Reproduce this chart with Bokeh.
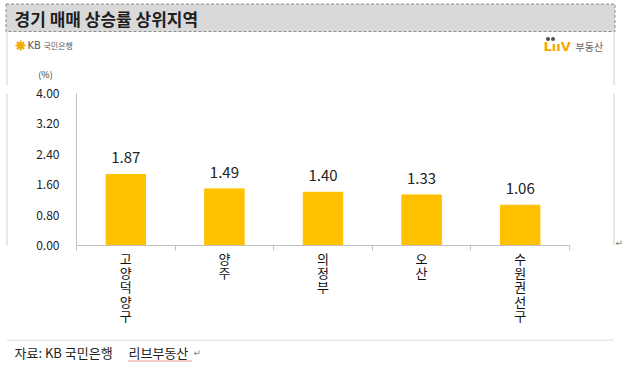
from bokeh.plotting import figure
from bokeh.models import FixedTicker, Range1d, NumeralTickFormatter
from bokeh.layouts import column, row
from bokeh.embed import file_html
from bokeh.resources import INLINE
from bokeh.core.properties import value

# ---- data ----
categories = ["고양덕양구", "양주", "의정부", "오산", "수원권선구"]
values = [1.87, 1.49, 1.40, 1.33, 1.06]
y_ticks = [0.0, 0.8, 1.6, 2.4, 3.2, 4.0]
title_text = "경기 매매 상승률 상위지역"
source_left = "자료: KB 국민은행"
source_right = "리브부동산"
unit_text = "(%)"

FONT = "Noto Sans CJK KR"
BOX = "#D0D0D0"


def deco(width, height):
    f = figure(width=width, height=height, output_backend="svg",
               toolbar_location=None, x_range=Range1d(0, width),
               y_range=Range1d(height, 0), x_axis_type=None,
               y_axis_type=None, min_border=0)
    f.outline_line_color = None
    f.background_fill_color = "white"
    f.border_fill_color = "white"
    return f


def txt(f, x, y, t, size, color, bold=False, align="left", font=FONT):
    f.text(x=[x], y=[y], text=[t], text_font=value(font), text_font_size=size,
           text_color=color, text_font_style="bold" if bold else "normal",
           text_align=align, text_baseline="middle")


# ---- header ----
hdr = deco(622, 85)
hdr.quad(left=5.5, right=614.5, top=3.5, bottom=31, fill_color="#D9D9D9",
         line_color="#8C8C8C", line_dash="3 2", line_width=1)
hdr.segment(x0=[6.5, 613.5], y0=[31, 31], x1=[6.5, 613.5], y1=[85, 85],
            line_color=BOX, line_width=1)
txt(hdr, 14, 17.5, title_text, "17px", "#1F1F1F", bold=True)
hdr.scatter(x=[20], y=[45], marker="asterisk", size=10, line_color="#F2A900",
            line_width=2)
txt(hdr, 27, 45, "KB", "10px", "#595959", font="DejaVu Sans")
txt(hdr, 43, 45, "국민은행", "8px", "#595959")
txt(hdr, 543, 46, "LııV", "13px", "#F7A800", bold=True, font="DejaVu Sans")
hdr.scatter(x=[547.5, 552.5], y=[38.5, 38.5], marker="circle", size=4,
            fill_color="#4D4D4D", line_color=None)
txt(hdr, 575, 46, "부동산", "10px", "#666666")
txt(hdr, 45, 74, unit_text, "9px", "#333333", align="center")

# ---- chart ----
p = figure(width=596, height=254, output_backend="svg", toolbar_location=None,
           x_range=Range1d(0, len(categories)), y_range=Range1d(0, 4),
           min_border_left=68, min_border_right=35, min_border_top=8,
           min_border_bottom=94)
p.outline_line_color = None
p.xgrid.visible = False
p.ygrid.visible = False
p.background_fill_color = "white"
p.border_fill_color = "white"

xs = [i + 0.5 for i in range(len(categories))]
p.vbar(x=xs, top=values, width=0.4, color="#FFC000")
p.text(x=xs, y=values, text=[f"{v:.2f}" for v in values], y_offset=-11,
       text_align="center", text_baseline="bottom", text_font=value(FONT),
       text_font_size="15px", text_color="#222222")

xa = p.xaxis[0]
xa.ticker = FixedTicker(ticks=xs, minor_ticks=list(range(len(categories) + 1)))
xa.major_label_overrides = {x: "\n".join(c) for x, c in zip(xs, categories)}
xa.major_tick_out = 0
xa.major_tick_in = 0
xa.minor_tick_out = 5
xa.minor_tick_in = 0
xa.minor_tick_line_color = "#BFBFBF"
xa.axis_line_color = "#BFBFBF"
xa.major_label_standoff = -2
xa.major_label_text_font = FONT
xa.major_label_text_font_size = "13px"
xa.major_label_text_color = "#111111"
xa.major_label_text_line_height = 0.76

ya = p.yaxis[0]
ya.ticker = FixedTicker(ticks=y_ticks)
ya.formatter = NumeralTickFormatter(format="0.00")
ya.major_tick_out = 0
ya.major_tick_in = 0
ya.minor_tick_out = 0
ya.minor_tick_in = 0
ya.axis_line_color = "#BFBFBF"
ya.major_label_standoff = 17
ya.major_label_text_font = FONT
ya.major_label_text_font_size = "12px"
ya.major_label_text_color = "#222222"

left = deco(8, 254)
left.segment(x0=[6.5], y0=[0], x1=[6.5], y1=[254], line_color=BOX)
right = deco(18, 254)
right.segment(x0=[9.5], y0=[0], x1=[9.5], y1=[254], line_color=BOX)
txt(right, 11, 250, "↵", "9px", "#808080", font="DejaVu Sans")

# ---- footer ----
ftr = deco(622, 27)
ftr.segment(x0=[6.5], y0=[0.5], x1=[613.5], y1=[0.5], line_color=BOX)
txt(ftr, 14, 13, source_left, "13px", "#222222")
txt(ftr, 128, 13, source_right, "13px", "#222222")
ftr.segment(x0=[128], y0=[21.5], x1=[192], y1=[21.5], line_color="#E03030",
            line_dash="1 1", line_width=1)
txt(ftr, 193, 13, "↵", "9px", "#808080", font="DejaVu Sans")

layout = column(hdr, row(left, p, right), ftr)
open("out.html", "w").write(file_html(layout, INLINE))
